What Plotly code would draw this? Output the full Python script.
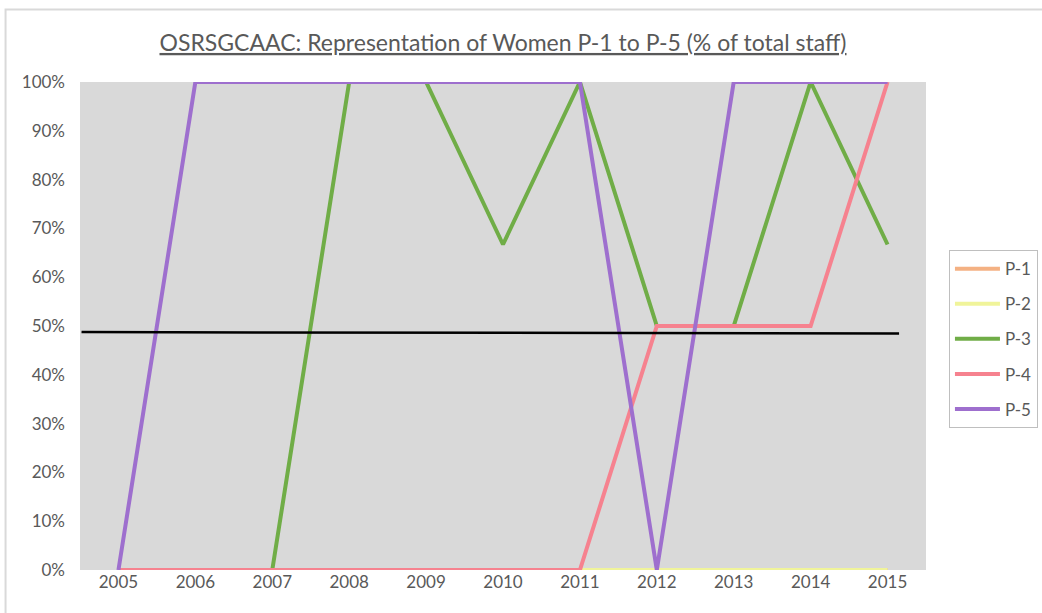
import plotly.graph_objects as go

years = [2005, 2006, 2007, 2008, 2009, 2010, 2011, 2012, 2013, 2014, 2015]
p1 = [None, None, None, None, None, None, 0, 0, 0, 0, 0]
p2 = [None, None, None, None, None, None, 0, 0, 0, 0, 0]
p3 = [0, 0, 0, 100, 100, 66.7, 100, 50, 50, 100, 66.7]
p4 = [0, 0, 0, 0, 0, 0, 0, 50, 50, 50, 100]
p5 = [0, 100, 100, 100, 100, 100, 100, 0, 100, 100, 100]
bench_x = [2004.52, 2015.15]
bench_y = [48.75, 48.45]
y_ticks = list(range(0, 101, 10))
y_labels = [f"{v}%" for v in y_ticks]

series = [("P-1", p1, "#F4B183"), ("P-2", p2, "#F0F49A"), ("P-3", p3, "#70AD47"),
          ("P-4", p4, "#F6828F"), ("P-5", p5, "#9E6FCE")]

fig = go.Figure()
for name, vals, col in series:
    fig.add_trace(go.Scatter(x=years, y=vals, mode="lines", name=name, legendgroup=name,
                             line=dict(color=col, width=4)))
fig.add_trace(go.Scatter(x=bench_x, y=bench_y, mode="lines", showlegend=False,
                         line=dict(color="#000000", width=2.5)))

font = "Lato, 'Open Sans', sans-serif"
fig.update_layout(
    width=1042, height=613,
    margin=dict(l=80, r=116, t=82, b=43, autoexpand=False),
    paper_bgcolor="white", plot_bgcolor="#D9D9D9",
    font=dict(family=font, color="#595959", size=17),
    title=dict(text="<u>OSRSGCAAC: Representation of Women P-1 to P-5 (% of total staff)</u>",
               x=0.5, xanchor="center", y=0.93, yanchor="middle",
               xref="paper",
               font=dict(family=font, size=23, color="#595959")),
    xaxis=dict(range=[2004.5, 2015.5], tickvals=years, ticktext=[str(y) for y in years],
               showgrid=False, zeroline=False, showline=False, ticks="",
               tickfont=dict(size=17, color="#595959")),
    yaxis=dict(range=[0, 100], tickvals=y_ticks, ticktext=y_labels,
               showgrid=False, zeroline=False, showline=False, ticks="",
               ticklabelstandoff=14,
               tickfont=dict(size=17, color="#595959")),
    legend=dict(xref="container", yref="container", x=0.9107, y=0.592,
                xanchor="left", yanchor="top",
                bordercolor="#BFBFBF", borderwidth=1, bgcolor="white",
                itemwidth=45,
                tracegroupgap=10, font=dict(size=17, color="#595959")),
    shapes=[dict(type="rect", xref="paper", yref="paper", x0=-0.088, x1=1.14, y0=-0.1, y1=1.1486,
                 line=dict(color="#D9D9D9", width=2), fillcolor="rgba(0,0,0,0)", layer="below")],
)
fig.write_html("out.html", config={"displayModeBar": False},
               post_script="document.body.style.margin='0';")
